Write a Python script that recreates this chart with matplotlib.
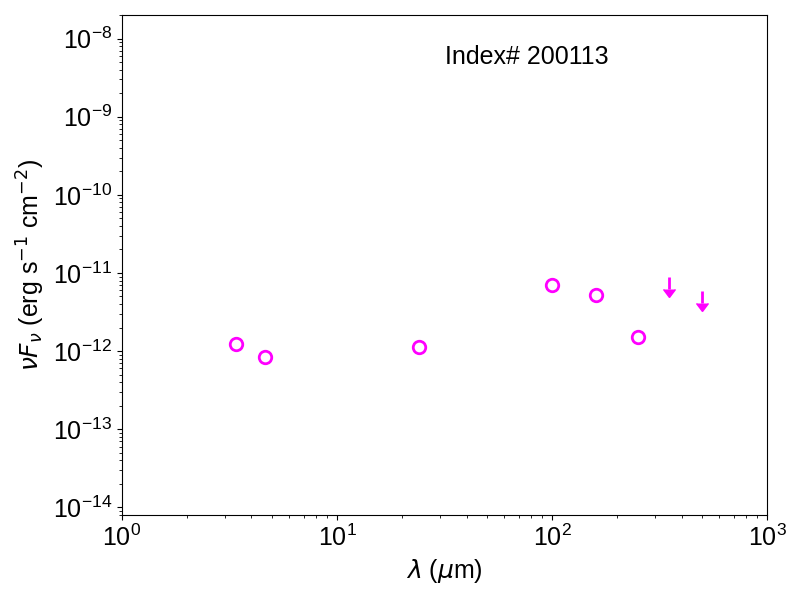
import numpy as np
import matplotlib
matplotlib.use("Agg")
import matplotlib.pyplot as plt
from matplotlib.markers import CARETDOWNBASE

plt.rcParams['font.family'] = ['Liberation Sans', 'DejaVu Sans']

# photometry (wavelength in micron, nuFnu in erg/s/cm2)
wave = [3.4, 4.6, 24.0, 100.0, 160.0, 250.0]
flux = [1.23e-12, 8.4e-13, 1.12e-12, 7.0e-12, 5.2e-12, 1.5e-12]

# upper limits
wave_ul = [350.0, 500.0]
flux_ul = [8.9e-12, 5.9e-12]

label = "Index# 200113"

fig = plt.figure(figsize=(8, 6), dpi=100)
ax = fig.add_axes([0.1525, 0.1417, 0.8065, 0.8333])

ax.plot(wave, flux, 'o', mfc='none', mec='magenta', mew=2, ms=9)

# upper limit arrows: short bar from the limit down, caret at the end
low = 0.7 * np.array(flux_ul)
ax.vlines(wave_ul, low, flux_ul, color='magenta', lw=2)
ax.plot(wave_ul, low, ls='none', marker=CARETDOWNBASE, color='magenta', ms=8)

ax.set_xscale('log')
ax.set_yscale('log')
ax.set_xlim(1, 1000)
ax.set_ylim(8e-15, 2e-8)

ax.set_xlabel(r'$\lambda$ ($\mu$m)', fontsize=18)
ax.set_ylabel(r'$\nu F_\nu$ (erg s$^{-1}$ cm$^{-2}$)', fontsize=18)
ax.tick_params(labelsize=18)
ax.text(0.628, 0.916, label, transform=ax.transAxes, fontsize=18, ha='center', va='center')

fig.savefig("out.png", dpi=100)
